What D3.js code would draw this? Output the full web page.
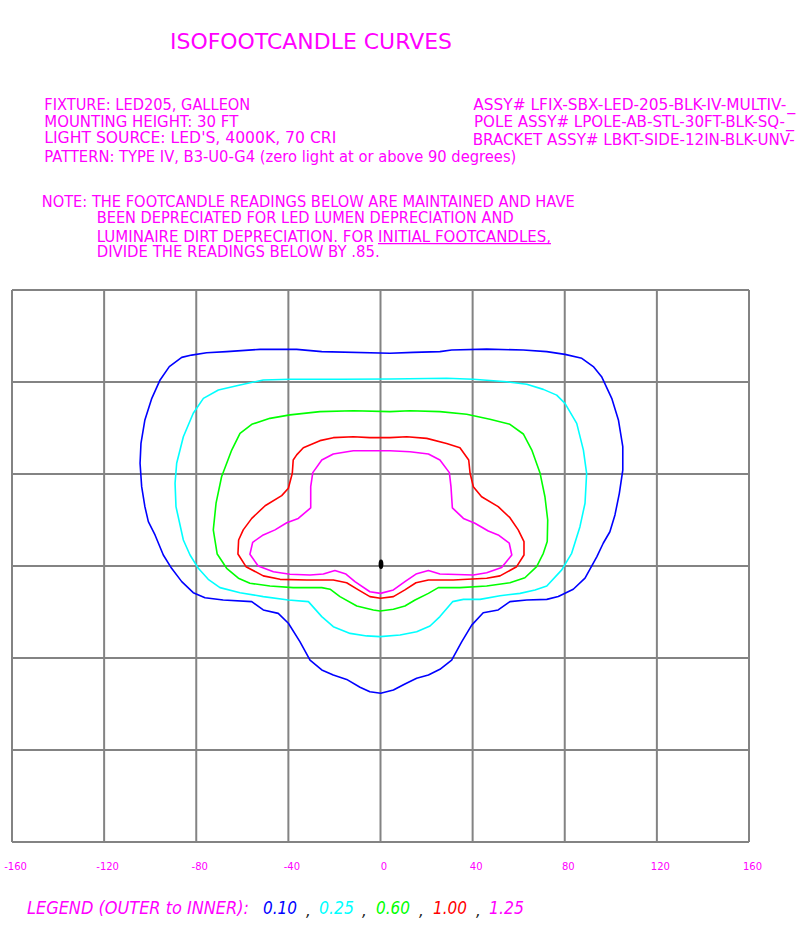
<!DOCTYPE html>
<html>
<head>
<meta charset="utf-8">
<script src="https://cdn.jsdelivr.net/npm/d3@7"></script>
<style>
  html, body { margin: 0; padding: 0; background: #fff; }
  svg { display: block; }
  text { font-family: "DejaVu Sans", Verdana, sans-serif; }
</style>
</head>
<body>
<svg id="chart" width="796" height="945"></svg>
<script>
// footcandle levels, outer to inner
var levels = ["0.10", "0.25", "0.60", "1.00", "1.25"];
var levelColors = ["#0000ff", "#00ffff", "#00ff00", "#ff0000", "#ff00ff"];

// outlines, [feet across, feet along] from the pole
var fc010 = [[4.1,92.5],[-25.5,93.2],[-36.4,94.2],[-52.3,94.2],[-66.8,93.2],[-75.5,92.7],[-82,91.7],[-86.3,90.7],
  [-91.7,86.7],[-95.7,80.9],[-99.3,72.9],[-102.3,63.5],[-104,53.3],[-104.4,44.7],[-103.7,34.5],[-102.3,25.8],
  [-100.8,19.3],[-97.9,13.5],[-94.3,4.8],[-90.7,-1],[-86.3,-6.8],[-81.3,-11.6],[-76.2,-13.8],[-68.3,-14.8],
  [-55.9,-15.5],[-50.9,-19.1],[-44.4,-20.6],[-40,-24.9],[-35,-32.9],[-30.6,-40.9],[-25.5,-45.2],[-20.5,-47.4],
  [-14.7,-49.3],[-8.9,-52.7],[-4.6,-54.7],[0.1,-55.3],[5.6,-53.9],[10.6,-51.3],[15.7,-48.8],[20.8,-47.4],
  [25.8,-44.9],[30.9,-40.9],[35.3,-32.9],[39.6,-25.7],[44.6,-20.3],[51.1,-19.1],[56.2,-15.5],[63.5,-14.8],
  [72.2,-14.5],[77.2,-13.3],[83.7,-10.1],[88.8,-5.3],[93.9,4],[96.7,9.9],[99.6,14.9],[101.8,22.2],
  [103.7,31.6],[105.2,41.7],[105.2,51.9],[103.3,63.5],[100.4,72.9],[96,82.3],[92.4,86.7],[87.4,90.3],
  [80.1,92],[72.2,93.2],[62,93.9],[46.1,94.3],[30.9,93.9],[25.8,93.2],[14.2,92.9]];
var fc025 = [[4.1,81.3],[-17.6,81.2],[-39.3,81.2],[-50.9,80.9],[-61,78.7],[-70.4,76.5],[-76.9,72.9],[-81.3,66.4],
  [-85.6,56.2],[-88.5,44.7],[-89.2,36],[-88.8,25.8],[-85.6,11.3],[-82.7,4.8],[-79.1,-1],[-74.8,-5.8],
  [-69.7,-9.4],[-61,-11.6],[-50.9,-13.3],[-40,-14.8],[-31.3,-15.5],[-25.5,-22],[-20.5,-26.4],[-13.2,-29.3],
  [-6,-30.4],[-0.2,-30.7],[8.5,-30],[15.7,-28.6],[21.5,-26.1],[25.8,-22],[31.3,-15.5],[36,-14.5],
  [43.2,-14.5],[51.9,-12.9],[60.6,-11.9],[67.1,-10.4],[72.2,-8.7],[78.7,-1.7],[83,5.5],[86.6,17.1],
  [88.8,27.3],[89.5,40.3],[88.1,50.4],[85.2,62],[80.1,70.7],[76.5,74.3],[70.7,76.8],[63.5,79],
  [54.8,80.1],[40.3,81.2],[28.7,81.6]];
var fc060 = [[4.1,67.1],[-11.8,67.5],[-26.3,67.1],[-39.3,65.7],[-48,64.2],[-55.9,61.6],[-61,57.7],[-64.6,50.4],
  [-69,38.8],[-71.4,27.3],[-72.6,15.7],[-70.9,5.2],[-66.8,-1],[-61.7,-5.3],[-56.7,-7.5],[-48,-8.7],
  [-37.9,-9.4],[-25.5,-9.4],[-21.9,-10.1],[-17.6,-13.3],[-10.3,-17.4],[-3.1,-19.1],[-0.2,-19.6],[5.6,-18.8],
  [10.6,-17.4],[15,-14.8],[20.8,-11.9],[25.1,-9.4],[34.5,-9.4],[46.1,-8.7],[56.2,-7.3],[62.7,-5.1],
  [67.8,-0.3],[70.7,5.5],[72.4,10.6],[72.6,20],[71.4,30.1],[69.3,40.3],[65.7,50.4],[62,57.4],
  [56.2,61.6],[47.5,63.8],[37.4,66],[25.8,67.1],[12.8,67.5]];
var fc100 = [[4.1,55.8],[-4.6,55.8],[-11.8,56.2],[-20.5,55.8],[-26.3,54.5],[-33.5,51.4],[-36.4,48.3],[-37.9,46.1],
  [-38.3,40.3],[-40,33.8],[-42.9,30.6],[-50.1,26.2],[-55.9,20.7],[-59.6,15.7],[-61.6,11.3],[-61.9,5.2],
  [-58.4,-0.3],[-50.9,-4.3],[-43.6,-5.8],[-32,-6.1],[-20.5,-6.1],[-14.7,-7.3],[-9.6,-10.4],[-4.6,-13.3],
  [0,-14],[5.6,-13.3],[10.6,-10.4],[15.4,-7.3],[20.8,-6.1],[31.6,-6.1],[46.1,-5.3],[51.9,-4.3],
  [59.1,-0.3],[62.3,4.8],[62.3,10.6],[59.8,15.7],[56.2,21],[51.1,25.8],[43.9,30.1],[40.3,34.5],
  [38.9,40.3],[38.3,46.1],[34.5,51.4],[28.7,53.3],[20.1,55.5],[11.4,56.2]];
var fc125 = [[4.1,50.1],[-11.8,50.1],[-20.5,48.7],[-25.5,46.1],[-29.4,40.6],[-30.3,34.5],[-30.3,25.3],[-35.7,20.7],
  [-40.7,18.8],[-45.8,15.7],[-50.9,13.5],[-55.5,10.3],[-56.7,5.1],[-53.1,0],[-46.5,-2.5],[-39.3,-3.6],
  [-30.6,-3.9],[-24.8,-3.5],[-19.8,-2],[-15,-3.5],[-11.1,-6.8],[-4.6,-11.2],[0,-11.9],[5.6,-10.4],
  [10.6,-6.8],[15.4,-3.5],[20.8,-2],[25.8,-3.5],[40.3,-3.9],[46.1,-2.9],[52.6,-0.7],[57,4.8],
  [55.9,9.9],[51.1,13.5],[46.8,15.2],[41,18.6],[36,20.7],[31.2,25.3],[30.6,34.5],[29.9,40.6],
  [25.8,46.1],[20.8,48.7],[12.8,49.7]];

var xTicks = [-160, -120, -80, -40, 0, 40, 80, 120, 160];
var yGrid = [-120, -80, -40, 0, 40, 80, 120];

var title = "ISOFOOTCANDLE CURVES";
var headerLeft = ["FIXTURE: LED205, GALLEON", "MOUNTING HEIGHT: 30 FT", "LIGHT SOURCE: LED'S, 4000K, 70 CRI",
  "PATTERN: TYPE IV, B3-U0-G4 (zero light at or above 90 degrees)"];
var headerRight = ["ASSY# LFIX-SBX-LED-205-BLK-IV-MULTIV-", "POLE ASSY# LPOLE-AB-STL-30FT-BLK-SQ-",
  "BRACKET ASSY# LBKT-SIDE-12IN-BLK-UNV-"];
var headerRightTail = ["_", "_", ""];
var noteLines = ["NOTE: THE FOOTCANDLE READINGS BELOW ARE MAINTAINED AND HAVE",
  "BEEN DEPRECIATED FOR LED LUMEN DEPRECIATION AND",
  "LUMINAIRE DIRT DEPRECIATION. FOR ",
  "DIVIDE THE READINGS BELOW BY .85."];
var noteUnderlined = "INITIAL FOOTCANDLES,";
var legendTitle = "LEGEND (OUTER to INNER):";

var contours = [fc010, fc025, fc060, fc100, fc125];
var pink = "#ff00ff";
var gridColor = "#838383";

var svg = d3.select("#chart");

var x = d3.scaleLinear().domain([-160, 160]).range([12, 749]);
var y = d3.scaleLinear().domain([-120, 120]).range([842, 290]);

// ---- header texts ----
function addText(str, px, py, size, len, color) {
  var t = svg.append("text")
    .attr("x", px).attr("y", py)
    .style("font-size", size + "px")
    .style("fill", color || pink)
    .text(str);
  if (len) t.attr("textLength", len).attr("lengthAdjust", "spacingAndGlyphs");
  return t;
}

addText(title, 170, 48.5, 21, 282);

var leftY = [110, 126.7, 143.3, 162.3];
var leftLen = [206, 194, 292, 472];
headerLeft.forEach(function(s, i) { addText(s, 44.3, leftY[i], 15, leftLen[i]); });

var rightX = [473.3, 474, 472.7];
var rightY = [110, 127.3, 145];
var rightLen = [313, 311, 322];
headerRight.forEach(function(s, i) {
  addText(s, rightX[i], rightY[i], 15, rightLen[i]);
  if (headerRightTail[i]) addText(headerRightTail[i], rightX[i] + rightLen[i] + 1, rightY[i], 15, 8);
});

var noteX = [41.7, 96.7, 96.7, 96.7];
var noteY = [206.7, 223.3, 241.7, 257.3];
var noteLen = [533, 417, 277, 283];
noteLines.forEach(function(s, i) { addText(s, noteX[i], noteY[i], 15, noteLen[i]); });
addText(noteUnderlined, 378, noteY[2], 15, 173);
svg.append("line")
  .attr("x1", 378).attr("x2", 551)
  .attr("y1", 243.6).attr("y2", 243.6)
  .attr("stroke", pink).attr("stroke-width", 1.2);

// ---- grid ----
var grid = svg.append("g").attr("id", "grid");
grid.selectAll("line.v")
  .data(xTicks).enter().append("line")
  .attr("class", "v")
  .attr("x1", function(d) { return x(d); })
  .attr("x2", function(d) { return x(d); })
  .attr("y1", y(-120)).attr("y2", y(120))
  .attr("stroke", gridColor).attr("stroke-width", 2);
grid.selectAll("line.h")
  .data(yGrid).enter().append("line")
  .attr("class", "h")
  .attr("y1", function(d) { return y(d); })
  .attr("y2", function(d) { return y(d); })
  .attr("x1", x(-160)).attr("x2", x(160))
  .attr("stroke", gridColor).attr("stroke-width", 2);

// ---- x tick labels ----
var xAxis = d3.axisBottom(x).tickValues(xTicks).tickSize(0).tickPadding(0)
  .tickFormat(function(d) { return d; });
var ax = svg.append("g").attr("transform", "translate(3,862.5)").call(xAxis);
ax.select(".domain").remove();
ax.selectAll("text")
  .style("font-family", "\"DejaVu Sans\", Verdana, sans-serif")
  .style("font-size", "10px")
  .style("fill", pink);

// ---- contours ----
var line = d3.line()
  .x(function(d) { return x(d[0]); })
  .y(function(d) { return y(d[1]); })
  .curve(d3.curveLinearClosed);

svg.append("g").attr("id", "contours")
  .selectAll("path")
  .data(contours).enter().append("path")
  .attr("d", line)
  .attr("fill", "none")
  .attr("stroke", function(d, i) { return levelColors[i]; })
  .attr("stroke-width", 1.6)
  .attr("stroke-linejoin", "round");

// pole location
svg.append("ellipse")
  .attr("cx", x(0) + 0.5).attr("cy", y(0) - 1.7)
  .attr("rx", 2.4).attr("ry", 4.8)
  .attr("fill", "#000");

// ---- legend ----
addText(legendTitle, 27, 914, 17, 222).style("font-style", "italic");
var legX = [263, 319, 376, 433, 489];
var legW = [34, 35, 34, 34, 35];
var commaX = [306, 362, 419, 476];
levels.forEach(function(lv, i) {
  addText(lv, legX[i], 914, 17, legW[i], levelColors[i]).style("font-style", "italic");
  if (i < commaX.length) addText(",", commaX[i], 916, 15, null, "#222").style("font-style", "italic");
});
</script>
</body>
</html>
